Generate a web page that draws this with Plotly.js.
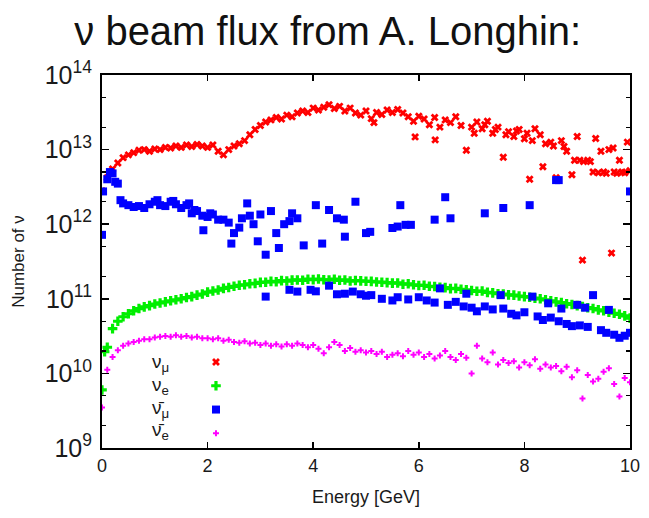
<!DOCTYPE html>
<html>
<head>
<meta charset="utf-8">
<script src="https://cdn.plot.ly/plotly-3.0.1.min.js"></script>
<style>html,body{margin:0;padding:0;background:#fff;}#chart{width:649px;height:518px;}</style>
</head>
<body>
<div id="chart"></div>
<script>
// ---- data ----
const energy = [0.0,0.1,0.2,0.3,0.4,0.5,0.6,0.7,0.8,0.9,1.0,1.1,1.2,1.3,1.4,1.5,1.6,1.7,1.8,1.9,
  2.0,2.1,2.2,2.3,2.4,2.5,2.6,2.7,2.8,2.9,3.0,3.1,3.2,3.3,3.4,3.5,3.6,3.7,3.8,3.9,
  4.0,4.1,4.2,4.3,4.4,4.5,4.6,4.7,4.8,4.9,5.0,5.1,5.2,5.3,5.4,5.5,5.6,5.7,5.8,5.9,
  6.0,6.1,6.2,6.3,6.4,6.5,6.6,6.7,6.8,6.9,7.0,7.1,7.2,7.3,7.4,7.5,7.6,7.7,7.8,7.9,
  8.0,8.1,8.2,8.3,8.4,8.5,8.6,8.7,8.8,8.9,9.0,9.1,9.2,9.3,9.4,9.5,9.6,9.7,9.8,9.9,10.0];

const numuE = [0.0,0.1,0.2,0.3,0.4,0.5,0.6,0.7,0.8,0.9,1.0,1.1,1.2,1.3,1.4,1.5,1.6,1.7,1.8,1.9,
  2.0,2.1,2.2,2.3,2.4,2.5,2.6,2.7,2.8,2.9,3.0,3.1,3.2,3.3,3.4,3.5,3.6,3.7,3.8,3.9,
  4.0,4.1,4.2,4.3,4.4,4.5,4.6,4.7,4.8,4.9,5.0,5.1,5.2,5.3,5.4,5.5,5.6,5.7,5.8,5.9,
  6.0,6.1,6.2,6.3,6.4,6.5,6.6,6.7,6.8,6.9,5.15,5.93,6.31,
  7.0,7.05,7.1,7.2,7.25,7.3,7.4,7.45,7.5,7.6,7.65,7.7,7.8,7.85,7.9,8.0,8.05,8.1,8.15,8.2,
  8.3,8.35,8.4,8.5,8.55,8.6,8.7,8.75,8.8,8.9,8.95,9.0,9.05,9.1,9.12,9.2,9.25,9.3,9.35,9.4,
  9.45,9.5,9.55,9.6,9.65,9.68,9.7,9.75,9.8,9.85,9.9,9.95,10.0];
const numuN = [2.8e12,4.2e12,5.5e12,6.6e12,7.8e12,8.5e12,9.1e12,9.8e12,1.0e13,9.5e12,
  1.02e13,1.0e13,1.07e13,1.05e13,1.12e13,1.07e13,1.15e13,1.1e13,1.17e13,1.12e13,
  1.07e13,1.15e13,9.5e12,8.5e12,1.0e13,1.12e13,1.2e13,1.32e13,1.58e13,1.86e13,
  2.1e13,2.35e13,2.5e13,2.7e13,2.57e13,2.9e13,2.75e13,3.1e13,3.3e13,3.15e13,
  3.6e13,3.4e13,3.7e13,4.0e13,3.55e13,3.8e13,3.3e13,3.6e13,3.1e13,2.9e13,
  3.3e13,2.6e13,3.15e13,2.95e13,3.4e13,3.15e13,3.45e13,3.1e13,2.75e13,2.4e13,
  2.8e13,2.57e13,2.15e13,2.7e13,2.0e13,2.5e13,2.3e13,2.75e13,2.1e13,9.8e12,2.3e13,1.48e13,1.35e13,
  2.0e13,1.66e13,2.35e13,1.9e13,2.15e13,2.4e13,1.66e13,1.86e13,2.0e13,7.9e12,1.58e13,1.74e13,1.5e13,1.78e13,1.86e13,1.4e13,1.66e13,4.0e12,1.32e13,1.9e13,
  1.58e13,5.9e12,1.2e13,1.26e13,1.12e13,4.2e12,1.32e13,1.1e13,9.5e12,4.6e12,7.2e12,1.5e13,7.2e12,3.3e11,6.9e12,7.2e12,6.9e12,5.0e12,1.41e13,4.9e12,
  9.5e12,5.0e12,4.8e12,1.0e13,4.1e11,1.05e13,5.0e12,4.8e12,7.2e12,5.0e12,4.9e12,1.26e13,5.2e12];

const nueE = [0.0,0.05].concat(energy.slice(1));
const nueN = [6.0e9,1.95e10,2.24e10,3.98e10,5.0e10,5.75e10,6.3e10,6.9e10,7.4e10,7.8e10,8.1e10,
  8.5e10,8.8e10,9.1e10,9.4e10,9.7e10,1.0e11,1.04e11,1.07e11,1.12e11,1.16e11,
  1.23e11,1.27e11,1.31e11,1.38e11,1.42e11,1.47e11,1.52e11,1.54e11,1.59e11,1.61e11,
  1.66e11,1.67e11,1.71e11,1.69e11,1.75e11,1.73e11,1.78e11,1.79e11,1.77e11,1.83e11,
  1.81e11,1.84e11,1.80e11,1.79e11,1.83e11,1.77e11,1.79e11,1.73e11,1.76e11,1.74e11,
  1.72e11,1.71e11,1.68e11,1.67e11,1.65e11,1.62e11,1.63e11,1.57e11,1.59e11,1.54e11,
  1.51e11,1.52e11,1.47e11,1.46e11,1.43e11,1.41e11,1.37e11,1.38e11,1.34e11,1.32e11,
  1.29e11,1.26e11,1.27e11,1.22e11,1.20e11,1.17e11,1.16e11,1.13e11,1.12e11,1.09e11,
  1.07e11,1.05e11,1.02e11,1.0e11,9.7e10,9.4e10,9.1e10,8.9e10,8.6e10,8.4e10,
  8.1e10,7.9e10,7.6e10,7.4e10,7.1e10,6.9e10,6.6e10,6.4e10,6.2e10,5.9e10,5.5e10];

const anumuE = [0.0,0.02,0.1,0.15,0.2,0.25,0.3,0.35,0.4,0.5,0.6,0.7,0.8,0.9,1.0,1.05,1.1,1.2,1.3,1.35,
  1.4,1.5,1.6,1.65,1.7,1.75,1.8,1.9,1.92,2.0,2.05,2.1,2.2,2.3,2.4,2.45,2.5,2.6,2.65,2.75,
  2.8,2.87,2.95,3.0,3.1,3.2,3.3,3.35,3.45,3.55,3.6,3.7,3.82,4.05,4.17,4.3,4.45,4.58,4.6,4.8,
  5.0,5.08,5.5,5.6,5.65,5.75,5.85,6.3,6.5,6.6,7.25,7.6,8.1,8.6,8.65,10.0,
  3.1,3.55,3.7,3.95,4.05,4.3,4.45,4.6,4.75,4.9,5.0,5.1,5.3,5.5,5.6,5.8,6.0,6.15,6.3,6.4,
  6.55,6.7,6.85,6.9,7.0,7.1,7.25,7.4,7.55,7.6,7.75,7.85,8.0,8.15,8.25,8.35,8.45,8.5,8.65,8.7,
  8.8,8.9,9.0,9.05,9.15,9.2,9.3,9.45,9.55,9.6,9.7,9.8,9.9,10.0];
const anumuN = [7.2e11,2.75e12,4.0e12,5.0e12,4.8e12,3.7e12,3.5e12,2.1e12,1.9e12,1.8e12,1.7e12,1.75e12,1.65e12,1.85e12,2.0e12,2.1e12,1.8e12,1.75e12,2.0e12,2.05e12,
  1.85e12,1.65e12,1.8e12,1.9e12,1.4e12,1.55e12,1.5e12,1.3e12,8.3e11,1.25e12,1.4e12,1.35e12,1.15e12,1.15e12,1.05e12,5.5e11,7.6e11,9.0e11,1.2e12,1.9e12,
  1.3e12,1.0e12,5.9e11,1.35e12,3.9e11,1.5e12,7.6e11,4.8e11,1.0e12,1.1e12,1.4e12,1.2e12,5.2e11,1.8e12,5.5e11,1.55e12,1.2e12,1.15e12,6.8e11,2.0e12,
  7.6e11,7.9e11,8.9e11,9.3e11,1.8e12,9.8e11,9.8e11,1.15e12,2.3e12,1.2e12,1.4e12,1.65e12,1.8e12,3.9e12,3.9e12,2.75e12,
  1.07e11,1.32e11,1.25e11,1.32e11,1.26e11,1.5e11,1.15e11,1.17e11,1.25e11,1.15e11,1.1e11,1.12e11,1.0e11,9.5e10,1.05e11,9.8e10,1.05e11,9.5e10,8.9e10,1.38e11,
  8.3e10,9.1e10,7.9e10,1.17e11,7.6e10,6.8e10,7.9e10,7.2e10,1.12e11,7.4e10,6.3e10,6.0e10,6.6e10,1.07e11,5.8e10,5.2e10,8.7e10,5.6e10,5.0e10,7.4e10,
  4.6e10,4.3e10,8.3e10,4.4e10,7.6e10,4.2e10,1.12e11,3.8e10,3.5e10,7.1e10,3.3e10,3.0e10,3.2e10,3.5e10];

const anueN = [3.5e9,1.12e10,1.66e10,2.04e10,2.34e10,2.51e10,2.63e10,2.75e10,2.88e10,2.88e10,
  3.02e10,3.09e10,3.16e10,3.09e10,3.24e10,3.09e10,3.16e10,3.02e10,3.09e10,2.95e10,
  2.95e10,2.88e10,2.95e10,2.75e10,2.82e10,2.63e10,2.57e10,2.69e10,2.51e10,2.57e10,
  2.40e10,2.51e10,2.34e10,2.45e10,2.29e10,2.45e10,2.34e10,2.51e10,2.40e10,2.24e10,
  2.40e10,2.14e10,1.86e10,2.24e10,2.63e10,2.40e10,2.0e10,2.19e10,1.95e10,2.04e10,
  1.91e10,2.0e10,1.82e10,1.95e10,1.66e10,1.78e10,1.86e10,1.70e10,2.0e10,1.78e10,
  1.91e10,1.66e10,1.82e10,1.58e10,1.74e10,2.0e10,1.66e10,1.51e10,1.82e10,1.62e10,
  1.0e10,2.34e10,1.58e10,1.41e10,1.91e10,1.32e10,1.51e10,1.38e10,1.45e10,1.20e10,
  1.41e10,1.29e10,1.55e10,1.15e10,1.32e10,1.20e10,1.26e10,1.07e10,1.23e10,8.9e9,
  1.10e10,4.6e9,9.5e9,7.8e9,8.5e9,1.05e10,1.17e10,7.2e9,4.9e9,8.7e9,7.6e9];

const seriesNames = ['ν<sub>μ</sub>', 'ν<sub>e</sub>', 'ν\u0304<sub>μ</sub>', 'ν\u0304<sub>e</sub>'];
const xTicks = [0, 2, 4, 6, 8, 10];

// ---- chart ----
const traces = [
  {x: numuE, y: numuN, name: seriesNames[0], type: 'scatter', mode: 'markers',
   marker: {symbol: 'x', size: 7, color: '#ff0000'}},
  {x: nueE, y: nueN, name: seriesNames[1], type: 'scatter', mode: 'markers',
   marker: {symbol: 'cross', size: 8, color: '#00ee00'}},
  {x: anumuE, y: anumuN, name: seriesNames[2], type: 'scatter', mode: 'markers',
   marker: {symbol: 'square', size: 8, color: '#0000ff'}},
  {x: energy, y: anueN, name: seriesNames[3], type: 'scatter', mode: 'markers',
   marker: {symbol: 'cross', size: 5, color: '#ff00ff'}}
];

const txt = '#1a1a1a';
const layout = {
  width: 649, height: 518,
  margin: {l: 102, r: 19, t: 75, b: 70, pad: 0},
  paper_bgcolor: '#ffffff', plot_bgcolor: '#ffffff',
  font: {family: 'Liberation Sans, Arial, sans-serif', color: txt},
  title: {text: 'ν beam flux from A. Longhin:', font: {size: 40, color: '#111', family: 'Liberation Sans, sans-serif'},
          xref: 'container', x: 0.505, xanchor: 'center', yref: 'container', y: 0.94, yanchor: 'middle'},
  xaxis: {range: [0, 10], tickvals: xTicks, ticktext: xTicks.map(String),
          ticks: 'inside', ticklen: 6, tickwidth: 1.5, tickcolor: '#000',
          showline: true, linewidth: 2, linecolor: '#000', mirror: 'ticks',
          showgrid: false, zeroline: false,
          tickfont: {size: 18, color: txt},
          title: {text: 'Energy [GeV]', font: {size: 18, color: txt}, standoff: 16}},
  yaxis: {type: 'log', range: [9, 14], dtick: 1, exponentformat: 'power',
          ticks: 'inside', ticklen: 7, tickwidth: 1.5, tickcolor: '#000',
          minor: {ticks: 'inside', ticklen: 4, tickwidth: 1.2, tickcolor: '#000', dtick: 'D2', showgrid: false},
          showline: true, linewidth: 2, linecolor: '#000', mirror: 'ticks',
          showgrid: false, zeroline: false, ticklabelstandoff: 4,
          tickfont: {size: 20, color: txt},
          title: {text: 'Number of ν', font: {size: 17, color: txt}, standoff: 16}},
  showlegend: true,
  legend: {x: 0.178, xanchor: 'left', y: 0.276, yanchor: 'top', bgcolor: 'rgba(0,0,0,0)',
           borderwidth: 0, font: {size: 16, color: 'rgba(0,0,0,0)'}, itemwidth: 30, tracegroupgap: 0},
  annotations: [
    {text: seriesNames[0], xref: 'paper', yref: 'paper', x: 0.091, y: 0.228, xanchor: 'left', yanchor: 'middle', showarrow: false, font: {size: 19, color: txt}},
    {text: seriesNames[1], xref: 'paper', yref: 'paper', x: 0.091, y: 0.1665, xanchor: 'left', yanchor: 'middle', showarrow: false, font: {size: 19, color: txt}},
    {text: seriesNames[2], xref: 'paper', yref: 'paper', x: 0.091, y: 0.105, xanchor: 'left', yanchor: 'middle', showarrow: false, font: {size: 19, color: txt}},
    {text: seriesNames[3], xref: 'paper', yref: 'paper', x: 0.091, y: 0.046, xanchor: 'left', yanchor: 'middle', showarrow: false, font: {size: 19, color: txt}}
  ]
};

Plotly.newPlot('chart', traces, layout, {displayModeBar: false, staticPlot: true});
</script>
</body>
</html>
